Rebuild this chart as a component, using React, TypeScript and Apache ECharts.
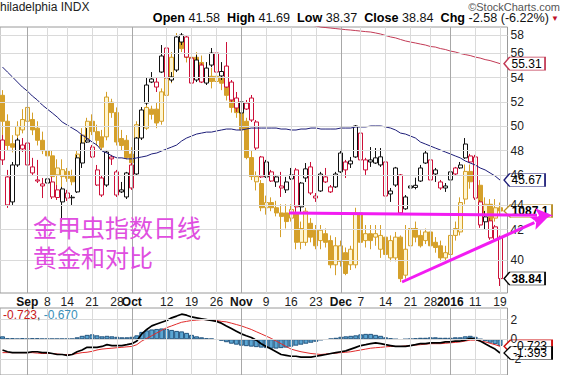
import React, { useEffect, useRef } from "react";
import * as echarts from "echarts";

// ---------- data ----------
const dates = [
  "08/25","08/26","08/27","08/28","08/31",
  "09/01","09/02","09/03","09/04","09/08","09/09","09/10","09/11","09/14","09/15",
  "09/16","09/17","09/18","09/21","09/22","09/23","09/24","09/25","09/28","09/29","09/30",
  "10/01","10/02","10/05","10/06","10/07","10/08","10/09","10/12","10/13","10/14","10/15","10/16",
  "10/19","10/20","10/21","10/22","10/23","10/26","10/27","10/28","10/29","10/30",
  "11/02","11/03","11/04","11/05","11/06","11/09","11/10","11/11","11/12","11/13","11/16","11/17",
  "11/18","11/19","11/20","11/23","11/24","11/25","11/27","11/30",
  "12/01","12/02","12/03","12/04","12/07","12/08","12/09","12/10","12/11","12/14","12/15","12/16",
  "12/17","12/18","12/21","12/22","12/23","12/24","12/28","12/29","12/30","12/31",
  "01/04","01/05","01/06","01/07","01/08","01/11","01/12","01/13","01/14","01/15","01/19",
];

const tickDates = ["09/01","09/08","09/14","09/21","09/28","10/01","10/12","10/19","10/26","11/02","11/09","11/16","11/23","12/01","12/07","12/14","12/21","12/28","01/04","01/11","01/19"];
const tickTexts = ["Sep","8","14","21","28","Oct","12","19","26","Nov","9","16","23","Dec","7","14","21","28","2016","11","19"];
const priceTicks = [40, 42, 44, 46, 48, 50, 52, 54, 56, 58];
const macdTicks = [2, 0, -2];

// Philadelphia Gold & Silver index: [open, close, low, high]
const xauOHLC = [
  [48.78,47.21,46.82,49.18],[45.91,43.84,43.63,46.44],[44.06,46.82,43.84,47.05],[46.82,48.78,46.67,48.94],[48.07,48.38,47.83,48.94],
  [48.54,46.82,46.74,48.94],[46.67,46.21,46.06,47.37],[45.68,45.60,45.45,47.21],[45.38,45.23,44.34,45.83],[45.45,45.76,45.08,46.44],
  [45.53,44.42,44.27,45.91],[44.94,44.38,44.20,45.30],[44.06,45.01,42.64,45.16],[44.71,44.34,44.13,44.94],[44.40,44.36,43.84,44.56],
  [44.79,47.37,44.71,47.60],[46.97,48.54,46.59,49.18],[48.78,48.62,48.54,49.75],[48.22,47.44,47.37,48.38],[46.44,45.30,45.23,46.82],
  [45.83,44.56,44.42,45.98],[45.30,47.83,45.16,47.99],[47.29,47.44,46.82,47.60],[46.29,44.56,44.42,46.44],[44.94,44.79,44.71,45.53],
  [44.42,46.21,44.27,46.29],[46.82,45.08,44.94,46.97],[46.13,48.94,46.06,49.02],[48.94,51.25,48.78,51.50],[51.84,53.40,51.67,54.02],
  [53.66,53.93,53.57,54.55],[53.22,53.66,52.79,54.02],[54.55,56.01,54.46,57.03],[56.75,54.02,53.57,57.03],[53.84,54.11,53.66,54.55],
  [54.73,57.79,54.55,57.98],[57.31,57.98,57.03,58.17],[57.79,55.91,55.82,57.98],[55.82,53.57,53.40,55.91],[53.84,55.64,53.66,56.10],
  [55.18,53.66,53.57,55.36],[53.57,54.91,53.40,55.45],[55.18,56.28,55.00,56.75],[56.28,54.55,54.29,56.38],[54.20,54.60,53.84,55.45],
  [55.09,53.22,53.14,57.31],[53.66,52.10,51.84,53.84],[52.27,51.42,51.08,52.79],[51.00,51.93,50.41,52.36],[51.33,51.84,51.25,52.10],
  [52.27,50.41,50.25,52.53],[50.25,48.14,47.91,50.41],[47.44,45.91,45.83,47.52],[45.91,47.05,45.83,47.21],[46.29,45.60,45.53,46.44],
  [45.53,45.91,45.16,46.06],[45.08,45.23,44.42,46.29],[44.94,45.53,44.71,45.91],[45.76,46.06,45.68,46.59],[46.44,43.70,43.35,46.59],
  [43.70,45.45,43.35,45.53],[45.83,46.52,45.53,46.97],[46.67,44.71,44.56,47.05],[44.34,44.49,44.06,44.71],[44.86,46.13,44.79,46.29],
  [45.53,45.91,45.45,46.59],[45.16,44.79,44.71,45.30],[45.16,46.13,45.08,46.29],[46.29,47.75,46.21,47.99],[47.05,46.44,45.83,47.21],
  [46.90,47.13,46.59,47.44],[47.44,49.92,47.37,50.00],[49.34,47.21,47.05,49.42],[47.21,46.44,46.06,47.37],[47.21,47.05,46.67,48.22],
  [46.97,47.37,46.90,48.14],[46.82,47.45,46.67,48.14],[47.05,44.49,44.42,47.10],[44.86,44.64,44.06,45.08],[45.30,46.59,45.16,46.67],
  [46.06,43.27,43.12,46.13],[43.56,44.42,43.49,44.56],[45.08,45.23,45.01,45.91],[45.12,45.28,44.98,45.85],[45.60,46.59,45.53,46.82],
  [46.97,47.75,46.90,47.99],[47.21,45.68,45.53,47.44],[46.44,46.13,45.53,46.59],[45.53,45.08,44.94,45.68],[45.08,45.23,44.79,45.45],
  [45.68,46.29,45.53,47.05],[46.59,46.13,45.98,46.67],[46.59,46.82,46.52,47.05],[47.37,48.46,47.29,48.94],[47.52,47.05,46.97,47.68],
  [47.44,44.34,44.20,47.60],[44.06,42.42,42.22,44.20],[42.64,42.99,42.08,43.41],[42.71,41.53,41.40,42.92],[42.29,41.42,41.30,42.42],
  [41.58,38.84,38.37,41.69],
];

// Gold overlay: [open, close, low, high]
const goldOHLC = [
  [1154,1139,1131,1157],[1139,1125,1122,1143],[1126,1124,1121,1131],[1131,1136,1128,1139],[1134,1140,1132,1146],
  [1139,1147,1137,1151],[1140,1134,1131,1144],[1135,1128,1125,1139],[1128,1122,1120,1133],[1122,1119,1117,1128],
  [1119,1107,1105,1122],[1108,1112,1102,1117],[1107,1111,1096,1117],[1110,1106,1104,1112],[1107,1104,1102,1111],
  [1106,1120,1105,1122],[1122,1131,1119,1135],[1129,1139,1128,1141],[1139,1133,1131,1143],[1133,1128,1125,1137],
  [1130,1124,1122,1134],[1130,1153,1128,1156],[1150,1144,1141,1152],[1144,1127,1125,1147],[1129,1125,1122,1134],
  [1128,1118,1117,1131],[1120,1115,1112,1124],[1115,1137,1114,1139],[1131,1139,1129,1143],[1135,1147,1134,1151],
  [1146,1143,1140,1148],[1146,1138,1135,1150],[1139,1156,1137,1158],[1154,1166,1152,1169],[1163,1176,1161,1179],
  [1173,1187,1171,1190],[1186,1181,1179,1190],[1179,1176,1173,1183],[1176,1173,1170,1180],[1176,1172,1169,1179],
  [1173,1167,1165,1177],[1166,1163,1160,1173],[1165,1162,1158,1170],[1162,1165,1160,1170],[1164,1161,1157,1169],
  [1162,1154,1151,1166],[1156,1147,1144,1160],[1151,1144,1141,1154],[1144,1134,1131,1147],[1139,1118,1117,1141],
  [1118,1107,1105,1122],[1104,1107,1099,1110],[1103,1089,1087,1105],[1089,1092,1085,1096],[1092,1089,1087,1095],
  [1089,1086,1084,1093],[1086,1084,1072,1091],[1086,1081,1077,1091],[1083,1088,1081,1091],[1086,1069,1065,1089],
  [1069,1077,1065,1081],[1069,1087,1067,1089],[1080,1072,1069,1083],[1076,1067,1065,1079],[1070,1076,1065,1079],
  [1074,1069,1066,1077],[1070,1056,1054,1073],[1056,1067,1050,1072],[1058,1067,1055,1070],[1063,1051,1050,1066],
  [1056,1065,1053,1067],[1056,1086,1054,1089],[1086,1069,1067,1088],[1070,1074,1066,1079],[1074,1070,1065,1079],
  [1072,1074,1067,1079],[1065,1073,1060,1079],[1072,1062,1059,1075],[1060,1070,1058,1073],[1060,1072,1058,1075],
  [1072,1048,1046,1073],[1050,1065,1048,1079],[1067,1077,1065,1083],[1077,1072,1069,1081],[1073,1067,1066,1076],
  [1070,1075,1068,1077],[1075,1067,1065,1077],[1069,1066,1063,1072],[1067,1060,1058,1070],[1060,1063,1058,1067],
  [1062,1073,1060,1076],[1073,1077,1070,1081],[1075,1092,1073,1095],[1094,1110,1091,1114],[1110,1104,1100,1114],
  [1108,1102,1094,1112],[1102,1088,1087,1105],[1085,1091,1082,1095],[1091,1079,1076,1094],[1083,1089,1081,1094],
  [1089,1087.1,1085,1092],
];

const ma50 = [
  55.00,54.55,54.11,53.66,53.22,52.87,52.44,52.10,51.67,51.33,
  51.00,50.66,50.25,50.00,49.75,49.51,49.18,48.94,48.62,48.38,
  47.91,47.75,47.52,47.37,47.37,47.29,47.29,47.37,47.44,47.52,
  47.68,47.75,47.91,48.07,48.22,48.38,48.70,48.94,49.10,49.26,
  49.34,49.42,49.42,49.51,49.59,49.67,49.67,49.59,49.59,49.67,
  49.75,49.75,49.75,49.75,49.75,49.75,49.67,49.67,49.59,49.59,
  49.67,49.67,49.75,49.75,49.67,49.67,49.67,49.67,49.75,49.75,
  49.75,49.84,49.84,49.84,49.92,49.92,49.92,49.84,49.75,49.59,
  49.34,49.26,49.10,48.94,48.62,48.46,48.30,48.14,47.99,47.83,
  47.68,47.52,47.37,47.13,46.97,46.82,46.59,46.44,46.21,45.98,
  45.67,
];

const ma200From = "11/20";
const ma200 = [
  58.95,58.85,58.74,58.69,58.64,58.59,58.54,58.49,58.45,58.40,
  58.35,58.30,58.26,58.17,58.07,57.93,57.79,57.70,57.55,57.41,
  57.31,57.22,57.12,57.03,56.89,56.84,56.70,56.61,56.47,56.38,
  56.24,56.14,56.05,55.91,55.82,55.68,55.59,55.45,55.31,
];

const macdLine = [
  -1.09,-1.27,-1.36,-1.36,-1.36,-1.36,-1.27,-1.27,-1.36,-1.36,
  -1.45,-1.55,-1.55,-1.64,-1.55,-1.27,-1.09,-0.82,-0.82,-0.82,
  -0.73,-0.55,-0.64,-0.64,-0.64,-0.55,-0.45,-0.18,0.55,1.0,
  1.36,1.55,1.73,1.91,2.18,2.36,2.55,2.45,2.27,2.18,
  2.09,2.0,1.91,1.82,1.64,1.36,1.09,0.82,0.55,0.36,
  0.18,-0.09,-0.45,-0.73,-1.0,-1.27,-1.55,-1.64,-1.73,-1.73,
  -1.82,-1.82,-1.82,-1.73,-1.64,-1.55,-1.45,-1.36,-1.27,-1.18,
  -1.0,-0.82,-0.64,-0.55,-0.45,-0.36,-0.45,-0.55,-0.64,-0.73,
  -0.73,-0.73,-0.64,-0.55,-0.45,-0.45,-0.36,-0.36,-0.36,-0.27,
  -0.27,-0.18,-0.18,-0.09,0.09,0.0,-0.18,-0.45,-0.73,-1.0,
  -1.393,
];

const signalLine = [
  -1.36,-1.36,-1.36,-1.36,-1.36,-1.36,-1.36,-1.41,-1.45,-1.45,
  -1.45,-1.5,-1.55,-1.55,-1.55,-1.45,-1.36,-1.32,-1.23,-1.09,
  -1.0,-0.95,-0.91,-0.86,-0.82,-0.77,-0.73,-0.55,-0.18,0.09,
  0.36,0.64,0.91,1.18,1.36,1.55,1.73,1.82,1.91,1.95,
  2.0,2.0,1.95,1.91,1.82,1.77,1.64,1.5,1.36,1.18,
  1.0,0.77,0.55,0.32,0.09,-0.18,-0.45,-0.73,-1.0,-1.14,
  -1.27,-1.36,-1.45,-1.5,-1.55,-1.5,-1.45,-1.41,-1.36,-1.32,
  -1.27,-1.18,-1.09,-1.0,-0.91,-0.86,-0.82,-0.77,-0.73,-0.73,
  -0.73,-0.68,-0.64,-0.59,-0.55,-0.5,-0.45,-0.45,-0.45,-0.41,
  -0.36,-0.32,-0.27,-0.18,-0.09,-0.09,-0.18,-0.27,-0.41,-0.55,
  -0.723,
];

const macdHist = [
  0.3,0.1,0.1,0.05,0.1,0.05,0.1,0.1,0.05,0.05,
  0.05,0.05,0.05,0.05,0.05,0.2,0.35,0.45,0.5,0.4,
  0.3,0.35,0.3,0.25,0.2,0.2,0.25,0.4,0.75,0.9,
  1.0,1.05,1.1,1.05,0.95,0.85,0.8,0.65,0.45,0.3,
  0.2,0.1,0.05,-0.05,-0.15,-0.3,-0.45,-0.55,-0.65,-0.7,
  -0.75,-0.8,-0.85,-0.9,-0.95,-0.95,-0.9,-0.85,-0.75,-0.65,
  -0.55,-0.45,-0.35,-0.25,-0.1,-0.05,0.05,0.15,0.25,0.3,
  0.35,0.4,0.5,0.55,0.55,0.45,0.35,0.2,0.1,0.0,
  -0.05,0.0,0.05,0.1,0.15,0.15,0.2,0.2,0.15,0.15,
  0.15,0.2,0.2,0.3,0.35,0.25,0.0,-0.2,-0.35,-0.5,
  -0.67,
];

// ---------- layout / style constants ----------
const PRICE_MIN = 37.93;
const PRICE_MAX = 58.745;
const GOLD_MIN = 1039.7;
const GOLD_MAX = 1193.5;
const MACD_MIN = -40 / 11;
const MACD_MAX = 35 / 11;

const RED = "#cc1038";
const BLACK = "#111111";
const GOLD = "#d5a02a";
const GOLD_FILL = "#fff6d2";
const MA50_C = "#1d1d78";
const MA200_C = "#c23a55";
const MAGENTA = "#f21cf2";
const FONT = "Liberation Sans, Arial, sans-serif";

function arrow(x1: number, y1: number, x2: number, y2: number) {
  const dx = x2 - x1, dy = y2 - y1;
  const L = Math.hypot(dx, dy);
  const ux = dx / L, uy = dy / L;
  const nx = -uy, ny = ux;
  const len = 18, half = 7;
  const bx = x2 - ux * len, by = y2 - uy * len;
  return [
    { type: "line", z: 100, shape: { x1, y1, x2: bx + ux * 2, y2: by + uy * 2 }, style: { stroke: MAGENTA, lineWidth: 3 } },
    {
      type: "polygon", z: 100,
      shape: { points: [[x2, y2], [bx + nx * half, by + ny * half], [bx + ux * 4, by + uy * 4], [bx - nx * half, by - ny * half]] },
      style: { fill: MAGENTA },
    },
  ];
}

export default function App() {
  const ref = useRef<HTMLDivElement>(null);

  useEffect(() => {
    if (!ref.current) return;
    const chart = echarts.init(ref.current, undefined, { renderer: "svg" });

    const cats = [...dates, ""];
    const last = dates[dates.length - 1];
    const ma200Start = dates.indexOf(ma200From);

    const xauItems = xauOHLC.map((d, k) => {
      const prev = k > 0 ? xauOHLC[k - 1][1] : Infinity;
      const col = d[1] < prev ? RED : BLACK;
      return {
        value: d.map((v) => Math.log(v)),
        itemStyle: { color: "#ffffff", color0: col, borderColor: col, borderColor0: col, borderWidth: 1 },
      };
    });
    const goldItems = goldOHLC.map((d) => d.slice());

    const ma50Data = ma50.map((v) => Math.log(v));
    const ma200Data = dates.map((_, k) => (k < ma200Start ? null : Math.log(ma200[k - ma200Start])));

    const isMonth = (t: string) => !/^\d+$/.test(t) || t === "2016";

    const vLines = tickDates.map((d, k) => ({
      xAxis: d,
      lineStyle: { color: isMonth(tickTexts[k]) ? "#a8a8a8" : "#dadada", width: 1, type: "solid" },
      label: { show: false },
    }));

    const tag = (coord: any[], text: string, border: string, bold: boolean) => ({
      coord,
      symbol: "path://M0 6L6 0H44V12H6Z",
      symbolKeepAspect: false,
      symbolSize: [text.length * 7 + 6, 13],
      symbolOffset: [(text.length * 7 + 6) / 2 + 4, 0],
      itemStyle: { color: "#ffffff", borderColor: border, borderWidth: 1 },
      label: {
        show: true, position: "inside", formatter: text, color: "#000",
        fontSize: 12, fontWeight: bold ? "bold" : "normal", offset: [2, 0], fontFamily: FONT,
      },
    });

    const lastX = xauOHLC[xauOHLC.length - 1];
    const lastG = goldOHLC[goldOHLC.length - 1];

    const option: any = {
      animation: false,
      backgroundColor: "#ffffff",
      textStyle: { fontFamily: FONT },
      grid: [
        { left: -2.5, top: 27, width: 510, height: 266, show: true, borderColor: "#9a9a9a", borderWidth: 1, backgroundColor: "transparent" },
        { left: -2.5, top: 308, width: 510, height: 75, show: true, borderColor: "#9a9a9a", borderWidth: 1, backgroundColor: "transparent" },
      ],
      xAxis: [
        {
          type: "category", gridIndex: 0, data: cats, boundaryGap: true,
          axisLine: { show: false }, axisTick: { show: false }, splitLine: { show: false },
          axisLabel: {
            show: true, margin: 3, color: "#222",
            interval: (_i: number, v: string) => tickDates.includes(v),
            formatter: (v: string) => {
              const t = tickTexts[tickDates.indexOf(v)];
              return isMonth(t) ? `{b|${t}}` : `{n|${t}}`;
            },
            rich: {
              b: { fontWeight: "bold", fontSize: 12, color: "#111", fontFamily: FONT },
              n: { fontSize: 12, color: "#222", fontFamily: FONT },
            },
          },
        },
        {
          type: "category", gridIndex: 1, data: cats, boundaryGap: true,
          axisLine: { show: false }, axisTick: { show: false }, axisLabel: { show: false }, splitLine: { show: false },
        },
      ],
      yAxis: [
        { type: "value", gridIndex: 0, min: Math.log(PRICE_MIN), max: Math.log(PRICE_MAX), show: false, splitLine: { show: false } },
        { type: "value", gridIndex: 0, min: GOLD_MIN, max: GOLD_MAX, show: false, splitLine: { show: false } },
        { type: "value", gridIndex: 1, min: MACD_MIN, max: MACD_MAX, show: false, splitLine: { show: false } },
      ],
      series: [
        {
          type: "line", xAxisIndex: 0, yAxisIndex: 0, data: [], clip: false, silent: true, z: 1,
          markLine: {
            silent: true, symbol: ["none", "none"], animation: false,
            data: [
              ...priceTicks.map((v) => ({
                yAxis: Math.log(v),
                lineStyle: { color: "#dadada", width: 1, type: "solid" },
                label: { show: true, position: "end", formatter: String(v), color: "#222", fontSize: 12, distance: 3, fontFamily: FONT },
              })),
              ...vLines,
            ],
          },
        },
        {
          type: "line", xAxisIndex: 1, yAxisIndex: 2, data: [], clip: false, silent: true, z: 1,
          markLine: {
            silent: true, symbol: ["none", "none"], animation: false,
            data: [
              ...macdTicks.map((v) => ({
                yAxis: v,
                lineStyle: { color: "#dadada", width: 1, type: "solid" },
                label: { show: true, position: "end", formatter: String(v), color: "#222", fontSize: 12, distance: 3, fontFamily: FONT },
              })),
              ...vLines,
            ],
          },
        },
        {
          name: "Gold", type: "candlestick", xAxisIndex: 0, yAxisIndex: 1, data: goldItems, z: 2, barWidth: 4.5,
          itemStyle: { color: GOLD_FILL, color0: GOLD, borderColor: GOLD, borderColor0: GOLD, borderWidth: 1 },
        },
        {
          name: "XAU", type: "candlestick", xAxisIndex: 0, yAxisIndex: 0, data: xauItems, z: 3, barWidth: 4.5,
        },
        {
          name: "MA50", type: "line", xAxisIndex: 0, yAxisIndex: 0, data: ma50Data, z: 4, symbol: "none",
          lineStyle: { color: MA50_C, width: 1 },
        },
        {
          name: "MA200", type: "line", xAxisIndex: 0, yAxisIndex: 0, data: ma200Data, z: 4, symbol: "none",
          lineStyle: { color: MA200_C, width: 1 },
        },
        {
          type: "line", xAxisIndex: 0, yAxisIndex: 0, data: [], clip: false, silent: true, z: 6,
          markPoint: {
            silent: true, animation: false,
            data: [
              tag([last, Math.log(ma200[ma200.length - 1])], ma200[ma200.length - 1].toFixed(2), MA200_C, false),
              tag([last, Math.log(ma50[ma50.length - 1])], ma50[ma50.length - 1].toFixed(2), MA50_C, false),
              tag([last, Math.log(lastX[1])], lastX[1].toFixed(2), "#000", true),
            ],
          },
        },
        {
          type: "line", xAxisIndex: 0, yAxisIndex: 1, data: [], clip: false, silent: true, z: 5,
          markPoint: {
            silent: true, animation: false,
            data: [tag([last, lastG[1]], lastG[1].toFixed(1), "#b8902a", true)],
          },
        },
        {
          name: "Hist", type: "bar", xAxisIndex: 1, yAxisIndex: 2, data: macdHist, z: 2, barCategoryGap: "0%",
          itemStyle: { color: "#5ba6d3", borderColor: "#24557f", borderWidth: 1 },
        },
        {
          name: "Signal", type: "line", xAxisIndex: 1, yAxisIndex: 2, data: signalLine, z: 3, symbol: "none",
          lineStyle: { color: "#e02a2a", width: 1 },
        },
        {
          name: "MACD", type: "line", xAxisIndex: 1, yAxisIndex: 2, data: macdLine, z: 4, symbol: "none",
          lineStyle: { color: "#000", width: 1.7 },
        },
        {
          type: "line", xAxisIndex: 1, yAxisIndex: 2, data: [], clip: false, silent: true, z: 6,
          markPoint: {
            silent: true, animation: false,
            data: [
              tag([last, signalLine[signalLine.length - 1]], signalLine[signalLine.length - 1].toFixed(3), "#d01010", false),
              tag([last, macdLine[macdLine.length - 1]], macdLine[macdLine.length - 1].toFixed(3), "#000", false),
            ],
          },
        },
      ],
      graphic: {
        elements: [
          { type: "text", x: 0, y: 7, z: 100, style: { text: "hiladelphia INDX", fontSize: 12, fill: "#222", verticalAlign: "middle", fontFamily: FONT } },
          { type: "text", x: 560, y: 7, z: 100, style: { text: "©StockCharts.com", fontSize: 11, fill: "#555", align: "right", verticalAlign: "middle", fontFamily: FONT } },
          {
            type: "text", x: 549, y: 18, z: 100,
            style: {
              text: `{b|Open} {n|${lastX[0].toFixed(2)}}  {b|High} {n|${lastX[3].toFixed(2)}}  {b|Low} {n|${lastX[2].toFixed(2)}}  {b|Close} {n|${lastX[1].toFixed(2)}}  {b|Chg} {n|-2.58 (-6.22%)}`,
              align: "right", verticalAlign: "middle", fontSize: 12.6, fontFamily: FONT,
              rich: {
                b: { fontWeight: "bold", fontSize: 12.6, fill: "#000", fontFamily: FONT },
                n: { fontSize: 12.6, fill: "#111", fontFamily: FONT },
              },
            },
          },
          { type: "text", x: 551, y: 18, z: 100, style: { text: "▼", fontSize: 8, fill: "#c0102a", verticalAlign: "middle", fontFamily: FONT } },
          {
            type: "text", x: 3, y: 315, z: 100,
            style: {
              text: `{r|${signalLine[signalLine.length - 1].toFixed(3)}}{k|, }{t|${macdHist[macdHist.length - 1].toFixed(3)}}`,
              verticalAlign: "middle", fontSize: 12, fontFamily: FONT,
              rich: {
                r: { fill: "#c81818", fontSize: 12, fontFamily: FONT },
                k: { fill: "#333", fontSize: 12, fontFamily: FONT },
                t: { fill: "#3a8fb8", fontSize: 12, fontFamily: FONT },
              },
            },
          },
          { type: "text", x: 33, y: 226, z: 100, style: { text: "金甲虫指数日线", fontSize: 24, fill: "#e04ee0", verticalAlign: "middle", fontFamily: "Noto Sans CJK SC" } },
          { type: "text", x: 33, y: 256, z: 100, style: { text: "黄金和对比", fontSize: 24, fill: "#e04ee0", verticalAlign: "middle", fontFamily: "Noto Sans CJK SC" } },
          ...arrow(289, 213, 553, 215.5),
          ...arrow(402, 282, 549, 216),
        ],
      },
    };

    chart.setOption(option);
    return () => chart.dispose();
  }, []);

  return <div ref={ref} style={{ position: "fixed", left: 0, top: 0, width: 562, height: 375, background: "#fff" }} />;
}
